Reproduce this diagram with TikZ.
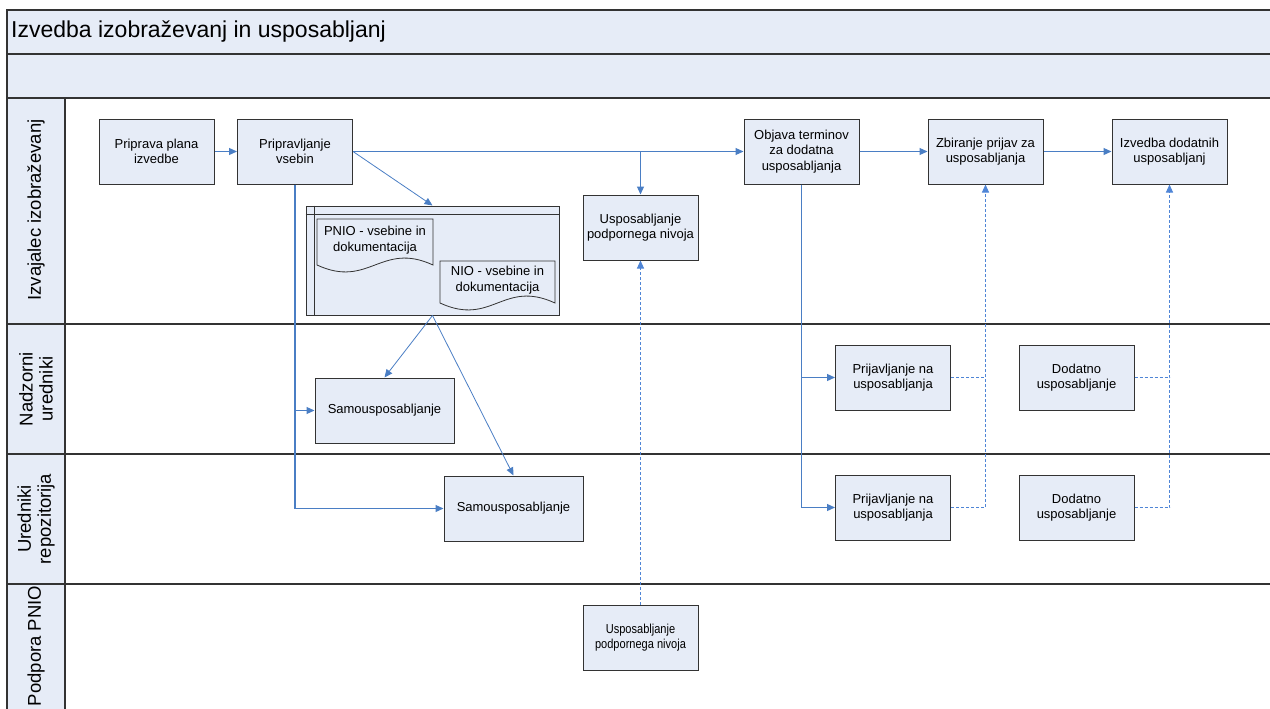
\documentclass[tikz,border=0pt]{standalone}
\usepackage{fontspec}
\setmainfont{Liberation Sans}
\newfontfamily\narrowfont[FakeStretch=0.85]{Liberation Sans}
\usetikzlibrary{arrows.meta,backgrounds,calc}
\definecolor{boxfill}{HTML}{E6ECF7}
\definecolor{lineblue}{HTML}{4A7EC4}
\definecolor{dashblue}{HTML}{4F85D6}
\definecolor{frame}{HTML}{333333}
\begin{document}
\begin{tikzpicture}[x=1pt,y=-1pt,
  box/.style={draw=frame, line width=1pt, fill=boxfill, minimum width=115pt, minimum height=65pt,
    inner sep=1pt, align=center, font=\fontsize{13}{15.5}\selectfont},
  widebox/.style={box, minimum width=139pt},
  doctext/.style={inner sep=0pt, minimum width=116pt, align=center, font=\fontsize{13}{15.5}\selectfont},
  docline/.style={draw=frame, line width=0.8pt, fill=boxfill},
  lanelabel/.style={rotate=90, align=center, font=\fontsize{18.5}{20}\selectfont},
  frameline/.style={draw=frame, line width=1.3pt},
  tip/.style={-{Triangle[length=8pt,width=7pt]}},
  flow/.style={draw=lineblue, line width=1.2pt, tip},
  thinflow/.style={draw=lineblue, line width=0.8pt, tip},
  dflow/.style={draw=dashblue, line width=1pt, dash pattern=on 3pt off 2pt, tip},
  dline/.style={draw=dashblue, line width=1pt, dash pattern=on 3pt off 2pt}
]
\useasboundingbox (0,0) rectangle (1270,709);

% header and lane column
\fill[boxfill] (7,10) rectangle (1272,98);
\fill[boxfill] (7,98) rectangle (65,711);
\draw[frameline] (1272,10) -- (7,10) -- (7,711);
\draw[frameline] (7,54) -- (1272,54);
\draw[frameline] (7,98) -- (1272,98);
\draw[frameline] (7,324) -- (1272,324);
\draw[frameline] (7,454) -- (1272,454);
\draw[frameline] (7,584) -- (1272,584);
\draw[frameline] (65,98) -- (65,711);

\node[anchor=west, font=\fontsize{23}{27}\selectfont, inner sep=0pt] (title) at (11,32) {Izvedba izobraževanj in usposabljanj};

\node[lanelabel] (l1) at (36,210) {Izvajalec izobraževanj};
\node[lanelabel] (l2) at (36,389) {Nadzorni\\uredniki};
\node[lanelabel] (l3) at (36,519) {Uredniki\\repozitorija};
\node[lanelabel] (l4) at (36,646) {Podpora PNIO};

% process boxes
\node[box] (prip)  at (156.5,151.5) {Priprava plana\\izvedbe};
\node[box] (pripr) at (295,151.5) {Pripravljanje\\vsebin};
\node[box] (obj)   at (801.5,151.5) {Objava terminov\\za dodatna\\usposabljanja};
\node[box] (zbir)  at (985.5,151.5) {Zbiranje prijav za\\usposabljanja};
\node[box] (izv)   at (1169.5,151.5) {Izvedba dodatnih\\usposabljanj};
\node[box] (usp1)  at (640.5,227.5) {Usposabljanje\\podpornega nivoja};
\node[widebox] (samo2) at (384.5,410.5) {Samousposabljanje};
\node[widebox] (samo3) at (513.5,508.5) {Samousposabljanje};
\node[box] (prij2) at (893,377.5) {Prijavljanje na\\usposabljanja};
\node[box] (dod2)  at (1076.5,377.5) {Dodatno\\usposabljanje};
\node[box] (prij3) at (893,507.5) {Prijavljanje na\\usposabljanja};
\node[box] (dod3)  at (1076.5,507.5) {Dodatno\\usposabljanje};
\node[box, font=\narrowfont\fontsize{13}{15.5}\selectfont] (usp4) at (640.5,637.5) {Usposabljanje\\podpornega nivoja};

% document container with documents
\node[doctext] (pnio) at (375,240) {PNIO - vsebine in\\dokumentacija};
\node[doctext] (nio)  at (497.5,280) {NIO - vsebine in\\dokumentacija};
\begin{scope}[on background layer]
  \node[draw=frame, line width=1pt, fill=boxfill, minimum width=253pt, minimum height=109pt, inner sep=0pt] (cont) at (432.5,260.5) {};
  \draw[draw=frame, line width=0.8pt] ($(cont.north west)+(0,9)$) -- ($(cont.north east)+(0,9)$);
  \draw[draw=frame, line width=0.8pt] ($(cont.north west)+(9,0)$) -- ($(cont.south west)+(9,0)$);
  \draw[docline] (317,219) -- (433,219) -- (433,265) .. controls +(-52,-24) and +(52,24) .. (317,265) -- cycle;
  \draw[docline] (440,261) -- (555,261) -- (555,303) .. controls +(-52,-24) and +(52,24) .. (440,303) -- cycle;
\end{scope}

% connectors
\draw[flow] (prip) -- (pripr);
\draw[flow] (pripr.east) -- (obj.west);
\draw[flow] (pripr.east -| usp1.north) -- (usp1.north);
\draw[thinflow] (pripr.east) -- (cont.north);
\draw[flow] (pripr.south) |- (samo2.west);
\draw[flow] (pripr.south) |- (samo3.west);
\draw[thinflow] (cont.south) -- (samo2.north);
\draw[thinflow] (cont.south) -- (samo3.north);
\draw[flow] (obj) -- (zbir);
\draw[flow] (zbir) -- (izv);
\draw[flow] (obj.south) |- (prij2.west);
\draw[flow] (obj.south) |- (prij3.west);
\draw[dflow] (prij2.east) -| (zbir.south);
\draw[dline] (prij3.east) -| (prij2.east -| zbir.south);
\draw[dflow] (dod2.east) -| (izv.south);
\draw[dline] (dod3.east) -| (dod2.east -| izv.south);
\draw[dflow] (usp4.north) -- (usp1.south);
\end{tikzpicture}
\end{document}
